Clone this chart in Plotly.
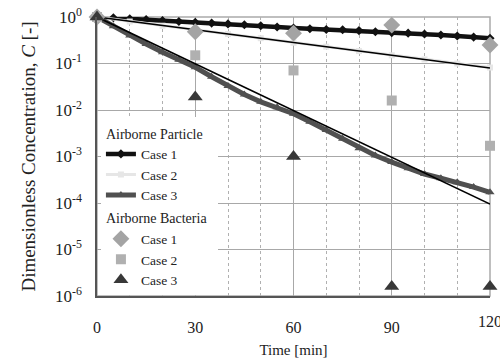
import plotly.graph_objects as go

# ---- data ----
t_particle = [0, 5, 10, 15, 20, 25, 30, 35, 40, 45, 50, 55, 60,
              65, 70, 75, 80, 85, 90, 95, 100, 105, 110, 115, 120]
particle_case1 = [1.0, 0.96, 0.92, 0.88, 0.84, 0.80, 0.77, 0.74, 0.71, 0.68, 0.65, 0.61, 0.58,
                  0.56, 0.54, 0.53, 0.51, 0.48, 0.46, 0.45, 0.43, 0.41, 0.39, 0.37, 0.35]
particle_case3 = [1.0, 0.63, 0.40, 0.263, 0.174, 0.120, 0.083, 0.052, 0.0330, 0.0215, 0.0150,
                  0.0115, 0.0083, 0.0056, 0.0037, 0.0024, 0.00151, 0.00105, 0.00076, 0.00056,
                  0.00042, 0.00034, 0.00028, 0.00022, 0.00017]
t_particle2 = [0, 10, 20, 30, 40, 50, 60, 70, 80, 90, 100, 110, 120]
particle_case2 = [1.0, 0.80, 0.65, 0.53, 0.43, 0.35, 0.28, 0.23, 0.185, 0.15, 0.122, 0.10, 0.082]

t_bacteria = [0, 30, 60, 90, 120]
bacteria_case1 = [1.0, 0.48, 0.45, 0.67, 0.25]
bacteria_case2 = [1.0, 0.15, 0.071, 0.016, 0.0017]
bacteria_case3 = [1.0, 0.019, 0.001, 1.6e-6, 1.6e-6]

fit_t = [0, 120]
fit_case2 = [1.0, 0.08]
fit_case3 = [1.0, 9.5e-5]

y_tickvals = [1e-6, 1e-5, 1e-4, 1e-3, 1e-2, 1e-1, 1]
y_ticktext = ["10<sup>-6</sup>", "10<sup>-5</sup>", "10<sup>-4</sup>", "10<sup>-3</sup>",
              "10<sup>-2</sup>", "10<sup>-1</sup>", "10<sup>0</sup>"]
x_tickvals = [0, 30, 60, 90, 120]
x_ticktext = ["0", "30", "60", "90", "120"]

SERIF = "Liberation Serif"
TXT = "#222222"

fig = go.Figure()

# Airborne particle
fig.add_trace(go.Scatter(
    x=t_particle, y=particle_case1, mode="lines+markers", name="Case 1",
    legendgroup="particle",
    legendgrouptitle=dict(text="Airborne Particle", font=dict(size=14, family=SERIF, color=TXT)),
    line=dict(color="#111111", width=4.5), marker=dict(symbol="diamond", size=7, color="#111111"),
    cliponaxis=False))
fig.add_trace(go.Scatter(
    x=t_particle2, y=particle_case2, mode="lines+markers", name="Case 2",
    legendgroup="particle",
    line=dict(color="#e6e6e6", width=3), marker=dict(symbol="square", size=6, color="#e6e6e6"),
    cliponaxis=False))
fig.add_trace(go.Scatter(
    x=t_particle, y=particle_case3, mode="lines+markers", name="Case 3",
    legendgroup="particle",
    line=dict(color="#505050", width=5), marker=dict(symbol="triangle-up", size=8, color="#505050"),
    cliponaxis=False))

# fitted lines
fig.add_trace(go.Scatter(x=fit_t, y=fit_case2, mode="lines", showlegend=False,
                         line=dict(color="#000000", width=1.6), hoverinfo="skip"))
fig.add_trace(go.Scatter(x=fit_t, y=fit_case3, mode="lines", showlegend=False,
                         line=dict(color="#000000", width=1.6), hoverinfo="skip"))

# Airborne bacteria
fig.add_trace(go.Scatter(
    x=t_bacteria, y=bacteria_case1, mode="markers", name="Case 1",
    legendgroup="bacteria",
    legendgrouptitle=dict(text="Airborne Bacteria", font=dict(size=14, family=SERIF, color=TXT)),
    marker=dict(symbol="diamond", size=13, color="#a4a4a4"), cliponaxis=False))
fig.add_trace(go.Scatter(
    x=t_bacteria, y=bacteria_case2, mode="markers", name="Case 2",
    legendgroup="bacteria",
    marker=dict(symbol="square", size=10, color="#b0b0b0"), cliponaxis=False))
fig.add_trace(go.Scatter(
    x=t_bacteria, y=bacteria_case3, mode="markers", name="Case 3",
    legendgroup="bacteria",
    marker=dict(symbol="triangle-up", size=13, color="#383838"), cliponaxis=False))

fig.update_layout(
    width=500, height=358,
    margin=dict(l=97, r=10, t=17, b=62, autoexpand=False),
    paper_bgcolor="white", plot_bgcolor="white",
    font=dict(family=SERIF, size=15, color=TXT),
    showlegend=True,
    legend=dict(x=0.01, y=0.64, xanchor="left", yanchor="top",
                bgcolor="white", borderwidth=0, traceorder="grouped",
                tracegroupgap=2, font=dict(size=13.5, family=SERIF, color=TXT)),
    shapes=[dict(type="rect", xref="paper", yref="paper", x0=0, x1=1, y0=0, y1=1,
                 line=dict(color="#aaaaaa", width=1.5), layer="below")],
    # last x tick label sits on the window edge and is partly cut off, as in the reference
    annotations=[dict(x=x_tickvals[-1], xref="x", y=0, yref="paper", yanchor="top",
                      yshift=-15, text=x_ticktext[-1], showarrow=False,
                      font=dict(size=16, family=SERIF, color=TXT))],
)

fig.update_xaxes(
    range=[0, 120], tickmode="array", tickvals=x_tickvals,
    ticktext=x_ticktext[:-1] + [""], automargin=False,
    showgrid=True, gridcolor="#a8a8a8", gridwidth=1,
    minor=dict(dtick=10, showgrid=True, gridcolor="#b0b0b0", griddash="dot", gridwidth=1),
    showline=True, linecolor="#555555", linewidth=1.5, zeroline=False,
    ticks="outside", ticklen=16, tickcolor="rgba(0,0,0,0)",
    tickfont=dict(size=16, family=SERIF, color=TXT),
    title=dict(text="Time [min]", font=dict(size=15, family=SERIF, color=TXT), standoff=18),
)
fig.update_yaxes(
    type="log", range=[-6, 0], tickmode="array", tickvals=y_tickvals, ticktext=y_ticktext,
    automargin=False,
    showgrid=True, gridcolor="#a8a8a8", gridwidth=1.2,
    showline=True, linecolor="#555555", linewidth=1.5, zeroline=False,
    ticks="outside", ticklen=10, tickcolor="rgba(0,0,0,0)",
    tickfont=dict(size=17, family=SERIF, color=TXT),
    title=dict(text="Dimensionless Concentration, <i>C</i> [-]",
               font=dict(size=19, family=SERIF, color=TXT), standoff=14),
)

fig.write_html("out.html")
